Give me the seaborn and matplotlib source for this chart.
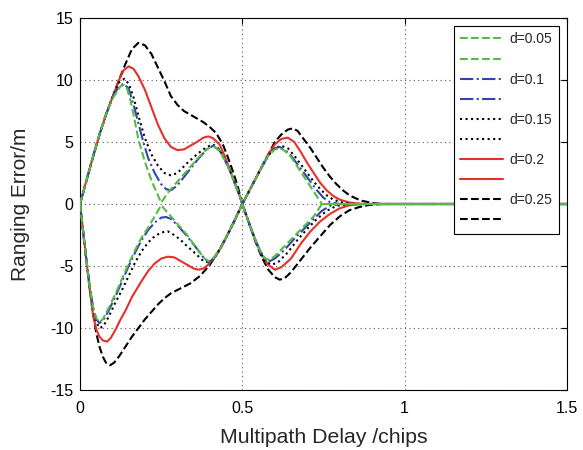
import matplotlib
matplotlib.use("Agg")
import matplotlib.pyplot as plt
import seaborn as sns

# d = 0.05 : branch A (upper lobe 1 -> lower lobe 2), branch B (lower lobe 1 -> upper lobe 2)
x_a_005 = [0, 0.02, 0.04, 0.06, 0.08, 0.10, 0.125, 0.135, 0.145, 0.155, 0.165, 0.18, 0.20, 0.22, 0.235, 0.25,
           0.27, 0.30, 0.33, 0.36, 0.39, 0.41, 0.43, 0.445, 0.46, 0.475, 0.49, 0.5,
           0.52, 0.54, 0.555, 0.57, 0.585, 0.60, 0.63, 0.66, 0.69, 0.72, 0.745, 1.5]
y_a_005 = [0, 1.9, 3.8, 5.6, 7.2, 8.5, 9.5, 9.6, 9.3, 8.4, 7.2, 5.2, 3.4, 1.9, 1.0, 0.1,
           0.9, 1.8, 2.7, 3.6, 4.4, 4.7, 4.3, 3.6, 2.8, 1.8, 0.8, 0,
           -1.5, -2.9, -3.8, -4.4, -4.5, -4.2, -3.4, -2.6, -1.8, -1.0, 0, 0]
x_b_005 = [0, 0.01, 0.02, 0.03, 0.04, 0.05, 0.06, 0.07, 0.08, 0.09, 0.11, 0.13, 0.15, 0.17, 0.19, 0.21, 0.23, 0.25,
           0.27, 0.30, 0.33, 0.36, 0.38, 0.395, 0.41, 0.43, 0.45, 0.475, 0.5,
           0.52, 0.54, 0.56, 0.58, 0.60, 0.615, 0.63, 0.65, 0.67, 0.69, 0.71, 0.73, 0.745, 1.5]
y_b_005 = [0, -2.3, -4.6, -6.7, -8.3, -9.2, -9.5, -9.3, -8.8, -8.3, -7.2, -6.0, -4.8, -3.7, -2.7, -1.9, -1.0, -0.1,
           -0.7, -1.6, -2.5, -3.6, -4.3, -4.6, -4.4, -3.7, -2.7, -1.4, 0,
           1.0, 2.0, 3.0, 3.9, 4.4, 4.5, 4.3, 3.8, 3.0, 2.2, 1.4, 0.6, 0, 0]

# d = 0.1
x_a_01 = [0, 0.02, 0.04, 0.06, 0.08, 0.10, 0.12, 0.135, 0.15, 0.165, 0.18, 0.195, 0.21, 0.23, 0.25, 0.265, 0.28,
          0.30, 0.33, 0.36, 0.39, 0.41, 0.43, 0.445, 0.46, 0.475, 0.49, 0.5,
          0.52, 0.54, 0.555, 0.57, 0.585, 0.60, 0.63, 0.66, 0.69, 0.72, 0.745, 0.77, 0.80, 1.5]
y_a_01 = [0, 1.9, 3.8, 5.6, 7.2, 8.6, 9.5, 9.7, 9.3, 8.0, 6.5, 5.0, 3.7, 2.5, 1.6, 1.2, 1.1,
          1.5, 2.5, 3.5, 4.4, 4.7, 4.3, 3.6, 2.8, 1.8, 0.8, 0,
          -1.5, -2.9, -3.8, -4.4, -4.6, -4.4, -3.7, -2.8, -2.0, -1.2, -0.55, -0.15, 0, 0]
x_b_01 = [0, 0.01, 0.02, 0.03, 0.04, 0.05, 0.06, 0.07, 0.08, 0.09, 0.11, 0.13, 0.15, 0.17, 0.19, 0.21, 0.23, 0.25,
          0.265, 0.28, 0.30, 0.33, 0.36, 0.38, 0.395, 0.41, 0.43, 0.45, 0.475, 0.5,
          0.52, 0.54, 0.56, 0.58, 0.60, 0.615, 0.63, 0.65, 0.67, 0.69, 0.71, 0.73, 0.75, 0.77, 0.80, 1.5]
y_b_01 = [0, -2.3, -4.6, -6.7, -8.3, -9.3, -9.6, -9.4, -9.0, -8.5, -7.4, -6.2, -5.0, -3.9, -2.9, -2.1, -1.5, -1.1,
          -1.05, -1.2, -1.7, -2.6, -3.6, -4.3, -4.7, -4.5, -3.7, -2.7, -1.4, 0,
          1.0, 2.0, 3.0, 3.9, 4.5, 4.6, 4.4, 3.9, 3.2, 2.5, 1.8, 1.1, 0.5, 0.15, 0, 0]

# d = 0.15
x_a_015 = [0, 0.02, 0.04, 0.06, 0.08, 0.10, 0.12, 0.137, 0.15, 0.165, 0.18, 0.20, 0.22, 0.24, 0.26, 0.28,
           0.30, 0.33, 0.36, 0.39, 0.41, 0.43, 0.445, 0.46, 0.475, 0.49, 0.5,
           0.52, 0.54, 0.555, 0.57, 0.59, 0.61, 0.64, 0.67, 0.70, 0.73, 0.76, 0.79, 0.83, 1.5]
y_a_015 = [0, 1.9, 3.8, 5.6, 7.2, 8.6, 9.8, 10.1, 9.7, 8.6, 7.1, 5.3, 4.0, 3.1, 2.5, 2.3,
           2.5, 3.3, 4.0, 4.6, 4.8, 4.4, 3.6, 2.8, 1.8, 0.8, 0,
           -1.5, -2.9, -3.9, -4.6, -4.9, -4.7, -3.9, -2.9, -2.0, -1.2, -0.55, -0.15, 0, 0]
x_b_015 = [0, 0.01, 0.02, 0.03, 0.04, 0.05, 0.06, 0.07, 0.08, 0.09, 0.11, 0.13, 0.15, 0.17, 0.19, 0.21, 0.23, 0.25,
           0.27, 0.29, 0.31, 0.33, 0.36, 0.38, 0.395, 0.41, 0.43, 0.45, 0.475, 0.5,
           0.52, 0.54, 0.56, 0.58, 0.60, 0.62, 0.64, 0.66, 0.68, 0.70, 0.72, 0.74, 0.76, 0.78, 0.81, 0.84, 1.5]
y_b_015 = [0, -2.3, -4.6, -6.7, -8.4, -9.5, -10.0, -9.9, -9.5, -9.0, -7.9, -6.9, -5.8, -4.7, -3.8, -3.1, -2.6, -2.3,
           -2.2, -2.5, -2.9, -3.4, -4.1, -4.6, -4.7, -4.5, -3.7, -2.7, -1.4, 0,
           1.0, 2.0, 3.0, 3.9, 4.5, 4.7, 4.5, 3.9, 3.2, 2.5, 1.8, 1.2, 0.7, 0.35, 0.1, 0, 0]

# d = 0.2
x_a_02 = [0, 0.02, 0.04, 0.06, 0.08, 0.10, 0.12, 0.135, 0.15, 0.165, 0.18, 0.20, 0.22, 0.24, 0.26, 0.28,
          0.30, 0.32, 0.34, 0.36, 0.38, 0.395, 0.41, 0.43, 0.445, 0.46, 0.475, 0.49, 0.5,
          0.52, 0.54, 0.56, 0.58, 0.60, 0.62, 0.65, 0.68, 0.71, 0.74, 0.77, 0.80, 0.83, 0.87, 1.5]
y_a_02 = [0, 1.9, 3.8, 5.6, 7.2, 8.6, 10.0, 10.8, 11.1, 10.9, 10.3, 9.2, 7.8, 6.4, 5.3, 4.6,
          4.35, 4.4, 4.7, 5.0, 5.35, 5.45, 5.3, 4.8, 3.9, 2.9, 1.8, 0.8, 0,
          -1.5, -2.9, -4.1, -4.9, -5.3, -5.1, -4.4, -3.2, -2.2, -1.4, -0.8, -0.35, -0.1, 0, 0]
x_b_02 = [0, 0.01, 0.02, 0.03, 0.04, 0.05, 0.06, 0.07, 0.083, 0.095, 0.11, 0.125, 0.14, 0.16, 0.19, 0.21, 0.23, 0.25,
          0.27, 0.29, 0.31, 0.33, 0.35, 0.365, 0.38, 0.395, 0.41, 0.43, 0.45, 0.475, 0.5,
          0.52, 0.54, 0.56, 0.58, 0.60, 0.62, 0.64, 0.66, 0.68, 0.70, 0.72, 0.74, 0.76, 0.78, 0.80, 0.83, 0.87, 1.5]
y_b_02 = [0, -2.3, -4.6, -6.9, -8.9, -10.1, -10.7, -11.0, -11.1, -10.8, -10.1, -9.3, -8.6, -7.5, -6.2, -5.4, -4.8, -4.4,
          -4.25, -4.3, -4.6, -4.9, -5.2, -5.3, -5.2, -4.9, -4.4, -3.7, -2.7, -1.4, 0,
          1.0, 2.0, 3.0, 4.0, 4.8, 5.25, 5.35, 5.0, 4.2, 3.3, 2.5, 1.7, 1.1, 0.65, 0.35, 0.12, 0, 0]

# d = 0.25
x_a_025 = [0, 0.02, 0.04, 0.06, 0.08, 0.10, 0.12, 0.14, 0.16, 0.18, 0.20, 0.22, 0.24, 0.26, 0.28,
           0.30, 0.32, 0.34, 0.36, 0.38, 0.40, 0.42, 0.44, 0.455, 0.47, 0.485, 0.5,
           0.52, 0.54, 0.56, 0.58, 0.60, 0.615, 0.63, 0.65, 0.68, 0.71, 0.74, 0.77, 0.80, 0.83, 0.86, 0.89, 0.93, 1.5]
y_a_025 = [0, 1.9, 3.8, 5.6, 7.2, 8.6, 10.0, 11.3, 12.5, 13.0, 12.8, 12.1, 11.0, 9.9, 8.7,
           8.0, 7.5, 7.2, 6.9, 6.6, 6.2, 5.7, 4.8, 3.8, 2.7, 1.5, 0,
           -1.5, -3.0, -4.3, -5.3, -5.9, -6.1, -6.0, -5.5, -4.5, -3.5, -2.6, -1.7, -1.0, -0.5, -0.25, -0.08, 0, 0]
x_b_025 = [0, 0.01, 0.02, 0.03, 0.04, 0.05, 0.06, 0.07, 0.08, 0.093, 0.105, 0.12, 0.14, 0.16, 0.18, 0.20, 0.22, 0.24,
           0.26, 0.28, 0.31, 0.34, 0.37, 0.40, 0.42, 0.44, 0.46, 0.48, 0.5,
           0.52, 0.54, 0.56, 0.58, 0.60, 0.62, 0.64, 0.655, 0.67, 0.69, 0.71, 0.73, 0.75, 0.77, 0.79, 0.81, 0.83, 0.85,
           0.87, 0.90, 0.93, 1.5]
y_b_025 = [0, -2.3, -4.6, -6.8, -8.8, -10.4, -11.5, -12.3, -12.8, -13.0, -12.8, -12.3, -11.5, -10.7, -10.0, -9.3, -8.7, -8.1,
           -7.6, -7.2, -6.8, -6.4, -5.8, -4.9, -4.1, -3.2, -2.2, -1.1, 0,
           1.0, 2.0, 3.0, 4.0, 5.0, 5.6, 6.0, 6.1, 5.9, 5.2, 4.5, 3.7, 2.9, 2.2, 1.6, 1.1, 0.7, 0.45,
           0.25, 0.08, 0, 0]

labels = ["d=0.05", "d=0.1", "d=0.15", "d=0.2", "d=0.25"]
colors = ["#55bb44", "#3344aa", "black", "#e8302a", "black"]
styles = ["--", "-.", ":", "-", "--"]
series = [(x_a_005, y_a_005, x_b_005, y_b_005),
          (x_a_01, y_a_01, x_b_01, y_b_01),
          (x_a_015, y_a_015, x_b_015, y_b_015),
          (x_a_02, y_a_02, x_b_02, y_b_02),
          (x_a_025, y_a_025, x_b_025, y_b_025)]

sns.set_style("white")
plt.rcParams["font.family"] = ["Liberation Sans", "DejaVu Sans"]
plt.rcParams["axes.unicode_minus"] = False

fig = plt.figure(figsize=(5.83, 4.5), dpi=100)
ax = fig.add_axes([80 / 583, 1 - 390 / 450, 487 / 583, 372 / 450])

handles, names = [], []
for i, (xa, ya, xb, yb) in enumerate(series):
    z = 10 - i
    sns.lineplot(x=xa, y=ya, ax=ax, color=colors[i], linestyle=styles[i], linewidth=1.5, zorder=z)
    ha = ax.get_lines()[-1]
    sns.lineplot(x=xb, y=yb, ax=ax, color=colors[i], linestyle=styles[i], linewidth=1.5, zorder=z)
    hb = ax.get_lines()[-1]
    handles += [ha, hb]
    names += [labels[i], " "]

ax.set_xlim(0, 1.5)
ax.set_ylim(-15, 15)
ax.set_xticks([0, 0.5, 1, 1.5])
ax.set_xticklabels(["0", "0.5", "1", "1.5"])
ax.set_yticks([-15, -10, -5, 0, 5, 10, 15])
ax.grid(True, color="0.35", linestyle=(0, (1, 3)), linewidth=0.8)
ax.tick_params(direction="in", length=4, width=0.8, top=True, right=True, labelsize=11.5, colors="black")
ax.tick_params(axis="y", pad=5)
ax.tick_params(axis="x", pad=8)
for s in ax.spines.values():
    s.set_color("black")
    s.set_linewidth(0.8)

ax.set_xlabel("Multipath Delay /chips", fontsize=15.3)
ax.set_ylabel("Ranging Error/m", fontsize=15)
ax.xaxis.set_label_coords(0.5, -0.103)
ax.yaxis.set_label_coords(-0.103, 0.5)

leg = ax.legend(handles, names, loc="upper right", fontsize=10, frameon=True, fancybox=False,
                edgecolor="black", framealpha=1, handlelength=3.1, handletextpad=0.5,
                labelspacing=0.44, borderaxespad=0.58, borderpad=0.45)
leg.get_frame().set_linewidth(0.8)
leg.set_zorder(20)

fig.savefig("out.png", dpi=100)
